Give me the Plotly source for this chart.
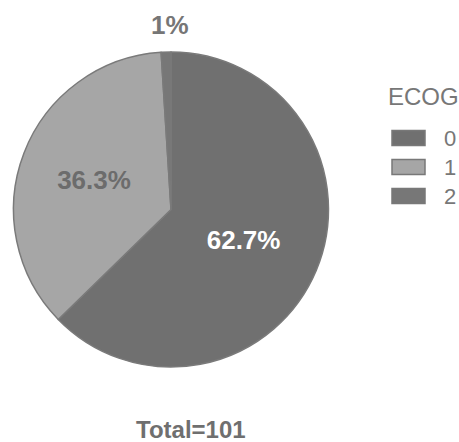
import math
import plotly.graph_objects as go

# ECOG performance status distribution (percent of 101 patients)
ecog_levels = ["0", "1", "2"]
ecog_share = [62.7, 36.3, 1.0]
slice_colors = ["#707070", "#a6a6a6", "#777777"]
inside_text_colors = ["#ffffff", "#6c6c6c", "#777777"]
total_label = "Total=101"
legend_title = "ECOG"

W, H = 459, 442
FONT = "Liberation Sans, Arial, sans-serif"

# pie geometry in pixels
cx, cy, r = 171, 209.5, 157.5

# small slices get their label placed outside the pie
small = [v / sum(ecog_share) < 0.05 for v in ecog_share]
positions = ["none" if s else "inside" for s in small]

fig = go.Figure(
    go.Pie(
        labels=ecog_levels,
        values=ecog_share,
        sort=False,
        direction="clockwise",
        rotation=0,
        textinfo="percent",
        textposition=positions,
        marker=dict(colors=slice_colors, line=dict(color="#7a7a7a", width=1.5)),
        insidetextfont=dict(family=FONT, size=26, color=inside_text_colors, weight="bold"),
        showlegend=False,
        domain=dict(
            x=[(cx - r) / W, (cx + r) / W],
            y=[1 - (cy + r) / H, 1 - (cy - r) / H],
        ),
        hoverinfo="label+percent",
    )
)

shapes = []
annotations = []

# outside labels for the small slices, placed beyond the rim at the slice's mid-angle
total = sum(ecog_share)
cum = 0.0
for v, s in zip(ecog_share, small):
    mid = (cum + v / 2) / total * 2 * math.pi
    cum += v
    if not s:
        continue
    d = r * 1.17
    px = cx + d * math.sin(mid)
    py = cy - d * math.cos(mid)
    annotations.append(dict(
        text=f"{v / total * 100:.3g}%", xref="paper", yref="paper",
        x=(px + 5) / W, y=1 - py / H, xanchor="center", yanchor="middle",
        showarrow=False, font=dict(family=FONT, size=26, color="#767676", weight="bold"),
    ))

# legend drawn as keys + labels
key_x0, key_x1 = 392, 425
key_h = 15
row_y = [138, 167, 196]
for lvl, col, yc in zip(ecog_levels, slice_colors, row_y):
    shapes.append(dict(
        type="rect", xref="paper", yref="paper",
        x0=key_x0 / W, x1=key_x1 / W,
        y0=1 - (yc + key_h / 2) / H, y1=1 - (yc - key_h / 2) / H,
        fillcolor=col, line=dict(color="#787878", width=1.5),
    ))
    annotations.append(dict(
        text=lvl, xref="paper", yref="paper",
        x=442 / W, y=1 - yc / H, xanchor="left", yanchor="middle",
        showarrow=False, font=dict(family=FONT, size=22, color="#777777"),
    ))

annotations.append(dict(
    text=legend_title, xref="paper", yref="paper",
    x=386 / W, y=1 - 96 / H, xanchor="left", yanchor="middle",
    showarrow=False, font=dict(family=FONT, size=24, color="#777777"),
))
annotations.append(dict(
    text=total_label, xref="paper", yref="paper",
    x=191 / W, y=1 - 429 / H, xanchor="center", yanchor="middle",
    showarrow=False, font=dict(family=FONT, size=24, color="#6f6f6f", weight="bold"),
))

fig.update_layout(
    width=W, height=H,
    margin=dict(l=0, r=0, t=0, b=0),
    paper_bgcolor="white",
    plot_bgcolor="white",
    shapes=shapes,
    annotations=annotations,
)

fig.write_html("out.html")
